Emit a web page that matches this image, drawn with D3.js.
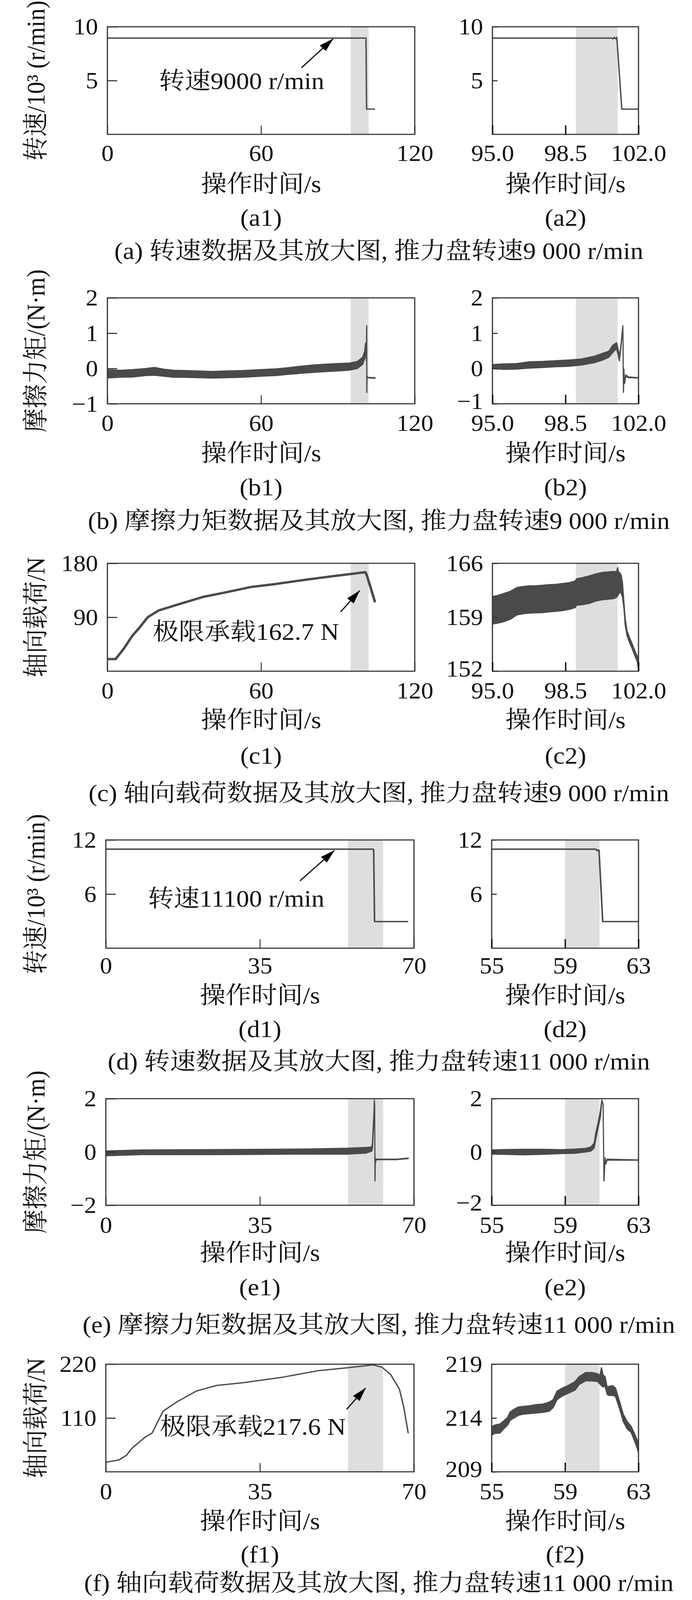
<!DOCTYPE html>
<html><head><meta charset="utf-8">
<script src="https://cdn.jsdelivr.net/npm/d3@7"></script>
<style>
html,body{margin:0;padding:0;background:#fff;overflow:hidden}
#chart{display:block}
svg text{font-family:"Liberation Serif","Times New Roman","Noto Serif CJK SC","Noto Sans CJK SC",serif;font-size:66px;fill:#111}
svg .tick text{font-size:63px}
</style>
</head><body>
<svg id="chart" viewBox="0 0 1772 4390" preserveAspectRatio="none"></svg>
<script>
// ================= DATA =================
const rowCaptions = [
  "(a) 转速数据及其放大图, 推力盘转速9 000 r/min",
  "(b) 摩擦力矩数据及其放大图, 推力盘转速9 000 r/min",
  "(c) 轴向载荷数据及其放大图, 推力盘转速9 000 r/min",
  "(d) 转速数据及其放大图, 推力盘转速11 000 r/min",
  "(e) 摩擦力矩数据及其放大图, 推力盘转速11 000 r/min",
  "(f) 轴向载荷数据及其放大图, 推力盘转速11 000 r/min"
];
const subLabelsLeft  = ["(a1)","(b1)","(c1)","(d1)","(e1)","(f1)"];
const subLabelsRight = ["(a2)","(b2)","(c2)","(d2)","(e2)","(f2)"];
const yAxisTitles = ["转速/10³ (r/min)","摩擦力矩/(N·m)","轴向载荷/N","转速/10³ (r/min)","摩擦力矩/(N·m)","轴向载荷/N"];
const xAxisTitle = "操作时间/s";

// x ticks
const xTicks9000Full = [0, 60, 120];        const xTickLabels9000Full = ["0","60","120"];
const xTicks9000Zoom = [95, 98.5, 102];     const xTickLabels9000Zoom = ["95.0","98.5","102.0"];
const xTicks11000Full = [0, 35, 70];        const xTickLabels11000Full = ["0","35","70"];
const xTicks11000Zoom = [55, 59, 63];       const xTickLabels11000Zoom = ["55","59","63"];
const xDomain9000Full = [0, 120], xDomain9000Zoom = [95, 102];
const xDomain11000Full = [0, 70], xDomain11000Zoom = [55, 63];

// y ticks / domains
const ySpeed9000 = [0, 10];    const ySpeed9000Ticks = [5, 10];          const ySpeed9000Labels = ["5","10"];
const yTorque9000 = [-1, 2];   const yTorque9000Ticks = [-1, 0, 1, 2];   const yTorque9000Labels = ["−1","0","1","2"];
const yLoad9000Full = [0, 180];   const yLoad9000FullTicks = [90, 180];  const yLoad9000FullLabels = ["90","180"];
const yLoad9000Zoom = [152, 166]; const yLoad9000ZoomTicks = [152, 159, 166]; const yLoad9000ZoomLabels = ["152","159","166"];
const ySpeed11000 = [0, 12];   const ySpeed11000Ticks = [6, 12];         const ySpeed11000Labels = ["6","12"];
const yTorque11000 = [-2, 2];  const yTorque11000Ticks = [-2, 0, 2];     const yTorque11000Labels = ["−2","0","2"];
const yLoad11000Full = [0, 220];  const yLoad11000FullTicks = [110, 220]; const yLoad11000FullLabels = ["110","220"];
const yLoad11000Zoom = [209, 219]; const yLoad11000ZoomTicks = [209, 214, 219]; const yLoad11000ZoomLabels = ["209","214","219"];

// shaded (failure) intervals [start, end] in s
const shade9000Full = [95, 102],  shade9000Zoom = [99.0, 101.0];
const shade11000Full = [55, 63],  shade11000Zoom = [59.0, 60.88];

// ---- series: [t, value] lines ----
const speed9000Full = [[0,8.95],[100.6,8.95],[100.96,8.95],[101.2,2.35],[104.5,2.35]];
const speed9000Zoom = [[95,8.95],[100.72,8.95],[100.78,8.87],[100.84,9.02],[100.9,8.88],[100.96,9.02],[101.2,2.35],[102,2.35]];
const load9000Full = [[0,20.2],[3.2,20.2],[6.3,37],[9.8,59.4],[12.4,72],[15.8,90.3],[20.1,101.5],[27,110.5],[37.3,123.9],[47.7,132.9],[56.3,140.7],[64.9,145],[78.7,153.4],[89,159],[95.9,162.6],[100.7,165.2],[101.3,160],[102.5,143.5],[104.5,115]];
const speed11000Full = [[0,10.98],[60.75,10.98],[60.85,10.9],[61.05,2.95],[68.7,2.95]];
const speed11000Zoom = [[55,10.98],[60.67,10.98],[60.75,10.8],[60.8,10.9],[60.85,10.85],[61.05,2.95],[63,2.95]];
const load11000Full = [[0,19.5],[3,24.4],[4.7,34],[6,48.8],[9,71.3],[10.5,79],[13,123.9],[16.1,142.7],[20.6,165.2],[25.1,176.4],[31.1,182.1],[40.1,193.3],[48.1,206.5],[55.2,212.9],[60.7,218.5],[62.7,214],[64.7,199],[66.7,168.9],[67.7,131.4],[68.7,78.8]];

// ---- series: [t, lower, upper] noisy envelopes ----
const torque9000Full = [[0,-0.27,-0.04],[5,-0.25,-0.05],[10,-0.24,-0.03],[15,-0.2,0.0],[18.4,-0.19,0.03],[22,-0.22,-0.02],[26,-0.25,-0.05],[30.4,-0.25,-0.06],[35,-0.26,-0.07],[40.8,-0.27,-0.085],[47,-0.26,-0.07],[52.8,-0.25,-0.06],[60,-0.22,-0.03],[66,-0.2,-0.01],[70.1,-0.17,0.02],[75,-0.14,0.06],[80.4,-0.11,0.10],[85,-0.09,0.12],[90,-0.07,0.14],[94.2,-0.05,0.15],[97.6,0.0,0.2],[99.7,0.12,0.32],[100.5,0.3,0.5],[100.8,0.5,0.72],[101.0,0.4,0.6],[101.08,0.22,0.35],[101.25,1.21,1.21],[101.28,-0.68,-0.68],[101.33,-0.3,-0.2],[101.5,-0.26,-0.25],[104.5,-0.28,-0.26]];
const torque9000Zoom = [[95,-0.007,0.113],[95.55,-0.024,0.13],[96.17,-0.017,0.14],[96.79,0.01,0.19],[97.41,0.027,0.2],[98.03,0.05,0.22],[98.65,0.06,0.24],[99.28,0.1,0.27],[99.9,0.165,0.35],[100.33,0.25,0.44],[100.58,0.32,0.49],[100.77,0.456,0.66],[100.95,0.56,0.73],[101.02,0.4,0.55],[101.08,0.216,0.35],[101.14,0.5,0.56],[101.25,1.21,1.21],[101.28,-0.675,-0.675],[101.3,-0.02,-0.02],[101.33,-0.43,-0.43],[101.39,-0.22,-0.18],[101.51,-0.26,-0.24],[102,-0.27,-0.26]];
const load9000Zoom = [[95,158.12,161.7],[95.24,158.23,161.82],[95.55,158.43,162.1],[95.86,158.75,162.37],[96.17,159.3,162.85],[96.48,159.46,163.0],[96.79,159.54,163.08],[97.1,159.58,163.1],[97.41,159.6,163.16],[97.72,159.7,163.24],[98.03,159.77,163.27],[98.34,159.85,163.37],[98.65,160.0,163.48],[98.97,160.25,163.71],[99.03,160.56,164.0],[99.34,160.64,164.16],[99.65,160.8,164.38],[99.96,161.11,164.63],[100.27,161.27,164.82],[100.58,161.35,164.9],[100.83,161.43,164.94],[100.95,161.6,164.9],[101.0,161.8,165.45],[101.05,162.0,164.74],[101.11,162.3,164.8],[101.17,162.1,164.42],[101.23,161.66,163.48],[101.3,160.25,161.0],[101.36,158.04,158.83],[101.45,156.62,157.25],[101.58,155.67,156.3],[101.7,154.89,155.52],[101.86,153.78,154.41],[101.95,153.15,153.94],[102.0,152.05,152.68]];
const torque11000Full = [[0,-0.14,0.04],[8,-0.10,0.075],[26,-0.10,0.09],[46,-0.08,0.11],[55,-0.08,0.14],[59.2,-0.04,0.17],[60.4,0.03,0.19],[60.58,0.145,0.33],[60.68,0.51,0.74],[60.83,1.01,1.2],[60.93,1.33,1.56],[61.0,1.95,1.95],[61.07,1.79,1.79],[61.15,-1.09,-1.09],[61.22,-0.22,-0.22],[61.28,-0.4,-0.4],[61.4,-0.29,-0.27],[66,-0.29,-0.27],[68.7,-0.25,-0.23]];
const torque11000Zoom = [[55,-0.085,0.076],[55.66,-0.09,0.09],[56.72,-0.108,0.1],[57.78,-0.09,0.1],[58.84,-0.06,0.085],[59.55,-0.05,0.108],[60.12,0,0.135],[60.4,0.03,0.19],[60.58,0.145,0.33],[60.68,0.51,0.74],[60.83,1.01,1.2],[60.93,1.33,1.56],[61.0,1.95,1.95],[61.07,1.79,1.79],[61.12,-1.09,-1.09],[61.18,-0.22,-0.22],[61.22,-0.45,-0.45],[61.29,-0.31,-0.27],[63,-0.31,-0.30]];
const load11000Zoom = [[55,212.38,213.17],[55.16,212.57,213.34],[55.45,212.6,213.45],[55.66,213.0,213.73],[55.87,213.34,214.07],[56.01,213.79,214.57],[56.22,214.0,214.8],[56.44,214.24,215.02],[56.72,214.35,215.08],[57.07,214.41,215.14],[57.43,214.46,215.25],[57.78,214.52,215.3],[58.14,214.63,215.48],[58.35,214.97,215.7],[58.56,215.7,216.49],[58.84,216.04,216.77],[59.2,216.32,217.05],[59.55,216.6,217.39],[59.76,217.1,217.84],[60.12,217.45,218.23],[60.47,217.45,218.23],[60.76,217.39,218.12],[60.9,217.16,217.95],[60.98,217.0,218.68],[61.07,216.88,218.0],[61.18,216.94,217.84],[61.29,216.2,216.88],[61.39,216.1,216.94],[61.6,216.1,217.0],[61.75,215.98,216.77],[61.96,214.91,215.59],[62.17,213.67,214.35],[62.38,213.0,213.67],[62.6,212.66,213.22],[62.81,211.76,212.43],[62.95,211.08,211.87],[63.0,210.75,211.53]];

// annotations: [textT, textV, tailT, tailV, tipT, tipV]
const annotSpeed9000 = {text:"转速9000 r/min", pos:[52.4,4.95,75.8,6.19,88.1,8.88]};
const annotLoad9000  = {text:"极限承载162.7 N", pos:[54.1,65.6,91.1,99.1,98.5,134.5]};
const annotSpeed11000 = {text:"转速11100 r/min", pos:[29.6,5.51,44.1,7.46,51.9,10.83]};
const annotLoad11000  = {text:"极限承载217.6 N", pos:[33.4,92.1,54.7,127.8,59.0,171.1]};

// ================= LAYOUT =================
const rows = [
  {top:73.5,  bottom:368.7,  L:[275,1062], R:[1261,1635], tickY:420,  titleY:505,  subY:597,  capY:688},
  {top:817.3, bottom:1107.9, L:[275,1062], R:[1261,1635], tickY:1160, titleY:1244, subY:1337, capY:1429},
  {top:1545.6,bottom:1841.6, L:[275,1062], R:[1261,1635], tickY:1894, titleY:1976, subY:2073, capY:2176},
  {top:2304.6,bottom:2601.6, L:[271,1060], R:[1259,1635], tickY:2649, titleY:2731, subY:2823, capY:2912},
  {top:3014.5,bottom:3306.9, L:[271,1060], R:[1259,1635], tickY:3360, titleY:3438, subY:3532, capY:3635},
  {top:3743,  bottom:4038.3, L:[271,1060], R:[1259,1635], tickY:4091, titleY:4174, subY:4265, capY:4343}
];
const captionX = 970, yTitleX = 92;
const DATA_COLOR = "#4a4a4a", SHADE = "#dedede", FRAME = "#333";

const panels = [
  [{xd:xDomain9000Full,xt:xTicks9000Full,xl:xTickLabels9000Full,yd:ySpeed9000,yt:ySpeed9000Ticks,yl:ySpeed9000Labels,shade:shade9000Full,lines:[speed9000Full],lw:3.5,annot:annotSpeed9000},
   {xd:xDomain9000Zoom,xt:xTicks9000Zoom,xl:xTickLabels9000Zoom,yd:ySpeed9000,yt:ySpeed9000Ticks,yl:ySpeed9000Labels,shade:shade9000Zoom,lines:[speed9000Zoom],lw:3.5}],
  [{xd:xDomain9000Full,xt:xTicks9000Full,xl:xTickLabels9000Full,yd:yTorque9000,yt:yTorque9000Ticks,yl:yTorque9000Labels,shade:shade9000Full,bands:[torque9000Full]},
   {xd:xDomain9000Zoom,xt:xTicks9000Zoom,xl:xTickLabels9000Zoom,yd:yTorque9000,yt:yTorque9000Ticks,yl:yTorque9000Labels,shade:shade9000Zoom,bands:[torque9000Zoom]}],
  [{xd:xDomain9000Full,xt:xTicks9000Full,xl:xTickLabels9000Full,yd:yLoad9000Full,yt:yLoad9000FullTicks,yl:yLoad9000FullLabels,shade:shade9000Full,lines:[load9000Full],lw:6.5,annot:annotLoad9000},
   {xd:xDomain9000Zoom,xt:xTicks9000Zoom,xl:xTickLabels9000Zoom,yd:yLoad9000Zoom,yt:yLoad9000ZoomTicks,yl:yLoad9000ZoomLabels,shade:shade9000Zoom,bands:[load9000Zoom]}],
  [{xd:xDomain11000Full,xt:xTicks11000Full,xl:xTickLabels11000Full,yd:ySpeed11000,yt:ySpeed11000Ticks,yl:ySpeed11000Labels,shade:shade11000Full,lines:[speed11000Full],lw:4,annot:annotSpeed11000},
   {xd:xDomain11000Zoom,xt:xTicks11000Zoom,xl:xTickLabels11000Zoom,yd:ySpeed11000,yt:ySpeed11000Ticks,yl:ySpeed11000Labels,shade:shade11000Zoom,lines:[speed11000Zoom],lw:4}],
  [{xd:xDomain11000Full,xt:xTicks11000Full,xl:xTickLabels11000Full,yd:yTorque11000,yt:yTorque11000Ticks,yl:yTorque11000Labels,shade:shade11000Full,bands:[torque11000Full]},
   {xd:xDomain11000Zoom,xt:xTicks11000Zoom,xl:xTickLabels11000Zoom,yd:yTorque11000,yt:yTorque11000Ticks,yl:yTorque11000Labels,shade:shade11000Zoom,bands:[torque11000Zoom]}],
  [{xd:xDomain11000Full,xt:xTicks11000Full,xl:xTickLabels11000Full,yd:yLoad11000Full,yt:yLoad11000FullTicks,yl:yLoad11000FullLabels,shade:shade11000Full,lines:[load11000Full],lw:3.5,annot:annotLoad11000},
   {xd:xDomain11000Zoom,xt:xTicks11000Zoom,xl:xTickLabels11000Zoom,yd:yLoad11000Zoom,yt:yLoad11000ZoomTicks,yl:yLoad11000ZoomLabels,shade:shade11000Zoom,bands:[load11000Zoom]}]
];

// ================= DRAW =================
// drawn in a 1772x4390 coordinate space and fitted to the visible viewport
const svg = d3.select("#chart")
  .style("width", window.innerWidth + "px")
  .style("height", window.innerHeight + "px");
const defs = svg.append("defs");
defs.append("marker").attr("id","arrow").attr("markerUnits","userSpaceOnUse")
  .attr("viewBox","0 0 38 22").attr("markerWidth",38).attr("markerHeight",22)
  .attr("refX",37).attr("refY",11).attr("orient","auto")
  .append("path").attr("d","M0,0 L38,11 L0,22 Z").attr("fill","#000");

let clipId = 0;
function drawPanel(p, row, xr, isZoom, subLabel) {
  const x = d3.scaleLinear().domain(p.xd).range(xr);
  const y = d3.scaleLinear().domain(p.yd).range([row.bottom, row.top]);
  const g = svg.append("g");
  const id = "clip" + (clipId++);
  defs.append("clipPath").attr("id", id).append("rect")
    .attr("x", xr[0]).attr("y", row.top).attr("width", xr[1]-xr[0]).attr("height", row.bottom-row.top);

  g.append("rect").attr("x", x(p.shade[0])).attr("y", row.top)
    .attr("width", x(p.shade[1]) - x(p.shade[0])).attr("height", row.bottom - row.top)
    .attr("fill", SHADE);

  const dg = g.append("g").attr("clip-path", `url(#${id})`);
  (p.bands || []).forEach(b => {
    const area = d3.area().x(d => x(d[0])).y0(d => y(d[1])).y1(d => y(d[2]));
    dg.append("path").attr("d", area(b)).attr("fill", DATA_COLOR)
      .attr("stroke", DATA_COLOR).attr("stroke-width", 3).attr("stroke-linejoin","round");
  });
  (p.lines || []).forEach(l => {
    const line = d3.line().x(d => x(d[0])).y(d => y(d[1]));
    dg.append("path").attr("d", line(l)).attr("fill","none")
      .attr("stroke", DATA_COLOR).attr("stroke-width", p.lw).attr("stroke-linejoin","round");
  });

  g.append("rect").attr("x", xr[0]).attr("y", row.top).attr("width", xr[1]-xr[0])
    .attr("height", row.bottom-row.top).attr("fill","none").attr("stroke", FRAME).attr("stroke-width", 3);

  const xTickLen = isZoom ? 25 : 24, yTickLen = isZoom ? 13 : 25;
  const xa = g.append("g").attr("transform", `translate(0,${row.bottom})`)
    .call(d3.axisBottom(x).tickValues(p.xt).tickSize(-xTickLen).tickSizeOuter(0)
      .tickFormat((d,i) => p.xl[i]));
  xa.select(".domain").remove();
  xa.selectAll(".tick line").attr("stroke", isZoom ? "#111" : FRAME).attr("stroke-width", isZoom ? 3.5 : 2.5);
  xa.selectAll(".tick text").attr("y", row.tickY - row.bottom).attr("dy","0.35em");

  const ya = g.append("g").attr("transform", `translate(${xr[0]},0)`)
    .call(d3.axisLeft(y).tickValues(p.yt).tickSize(-yTickLen).tickSizeOuter(0).tickPadding(26)
      .tickFormat((d,i) => p.yl[i]));
  ya.select(".domain").remove();
  ya.selectAll(".tick line").attr("stroke", FRAME).attr("stroke-width", 3);
  // lowest label of the zoomed panels sits just above the x tick labels
  ya.selectAll(".tick text").attr("x", -24)
    .attr("dy", (d) => (isZoom && d === p.yd[0]) ? "0.22em" : "0.33em");

  const cx = (xr[0] + xr[1]) / 2;
  g.append("text").attr("x", cx).attr("y", row.titleY).attr("text-anchor","middle")
    .attr("dominant-baseline","central").text(xAxisTitle);
  g.append("text").attr("x", cx).attr("y", row.subY).attr("text-anchor","middle")
    .attr("dominant-baseline","central").text(subLabel);

  if (p.annot) {
    const a = p.annot.pos;
    g.append("text").attr("x", x(a[0])).attr("y", y(a[1])).attr("text-anchor","middle")
      .attr("dominant-baseline","central").text(p.annot.text);
    g.append("line").attr("x1", x(a[2])).attr("y1", y(a[3])).attr("x2", x(a[4])).attr("y2", y(a[5]))
      .attr("stroke","#000").attr("stroke-width",3).attr("marker-end","url(#arrow)");
  }
}

rows.forEach((row, i) => {
  drawPanel(panels[i][0], row, row.L, false, subLabelsLeft[i]);
  drawPanel(panels[i][1], row, row.R, true, subLabelsRight[i]);
  const cy = (row.top + row.bottom) / 2;
  svg.append("text").attr("transform", `translate(${yTitleX},${cy}) rotate(-90)`)
    .attr("text-anchor","middle").attr("dominant-baseline","central").text(yAxisTitles[i]);
  svg.append("text").attr("x", captionX).attr("y", row.capY).attr("text-anchor","middle")
    .attr("dominant-baseline","central").text(rowCaptions[i]);
});
</script>
</body></html>
